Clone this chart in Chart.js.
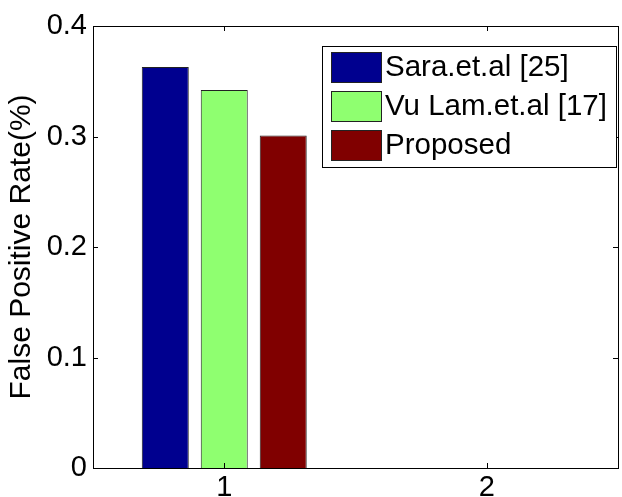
<!DOCTYPE html>
<html>
<head>
<meta charset="utf-8">
<script src="https://cdn.jsdelivr.net/npm/chart.js@4"></script>
<style>
  body { margin: 0; background: #fff; }
  #wrap { width: 622px; height: 497px; }
</style>
</head>
<body>
<div id="wrap"><canvas id="fprChart" width="622" height="497"></canvas></div>
<script>
// data
const categories = ['1', '2'];
const saraValues = [0.363, 0];
const vuLamValues = [0.342, 0];
const proposedValues = [0.301, 0];
const yTicks = [0, 0.1, 0.2, 0.3, 0.4];

const FONT = '"Liberation Sans", Arial, Helvetica, sans-serif';

// MATLAB style box + inward tick marks
const boxAxes = {
    id: 'boxAxes',
    afterDraw(chart) {
        const { ctx, chartArea: a, scales } = chart;
        ctx.save();
        ctx.strokeStyle = '#000';
        ctx.lineWidth = 1;
        ctx.strokeRect(a.left + 0.5, a.top + 0.5, a.right - a.left, a.bottom - a.top);
        ctx.beginPath();
        yTicks.forEach(v => {
            const y = Math.round(scales.y.getPixelForValue(v)) + 0.5;
            ctx.moveTo(a.left, y); ctx.lineTo(a.left + 5, y);
            ctx.moveTo(a.right, y); ctx.lineTo(a.right - 5, y);
        });
        categories.forEach((c, i) => {
            const x = Math.round(scales.x.getPixelForValue(i)) + 0.5;
            ctx.moveTo(x, a.bottom); ctx.lineTo(x, a.bottom - 5);
            ctx.moveTo(x, a.top); ctx.lineTo(x, a.top + 5);
        });
        ctx.stroke();
        ctx.restore();
    }
};

// legend drawn inside the axes, top right, with a border
const boxLegend = {
    id: 'boxLegend',
    afterDraw(chart) {
        const { ctx, chartArea: a } = chart;
        const w = 294, h = 121;
        const x0 = a.right - 2 - w, y0 = a.top + 20;
        ctx.save();
        ctx.fillStyle = '#fff';
        ctx.fillRect(x0, y0, w, h);
        ctx.strokeStyle = '#000';
        ctx.lineWidth = 1;
        ctx.strokeRect(x0 + 0.5, y0 + 0.5, w, h);
        ctx.font = '29.5px ' + FONT;
        ctx.textBaseline = 'middle';
        chart.data.datasets.forEach((ds, i) => {
            const cy = y0 + 21 + i * 39;
            ctx.fillStyle = ds.backgroundColor;
            ctx.fillRect(x0 + 9, cy - 15, 50, 30);
            ctx.strokeStyle = '#222';
            ctx.strokeRect(x0 + 9.5, cy - 14.5, 50, 30);
            ctx.fillStyle = '#000';
            ctx.fillText(ds.label, x0 + 63, cy + 1);
        });
        ctx.restore();
    }
};

const ctxFpr = document.getElementById('fprChart').getContext('2d');
const fprChart = new Chart(ctxFpr, {
    type: 'bar',
    data: {
        labels: categories,
        datasets: [{
            label: 'Sara.et.al [25]',
            data: saraValues,
            backgroundColor: 'rgb(0,0,143)'
        }, {
            label: 'Vu Lam.et.al [17]',
            data: vuLamValues,
            backgroundColor: 'rgb(143,255,112)'
        }, {
            label: 'Proposed',
            data: proposedValues,
            backgroundColor: 'rgb(128,0,0)'
        }]
    },
    options: {
        responsive: false,
        animation: false,
        devicePixelRatio: 1,
        layout: { padding: { top: 26, right: 4, left: 0, bottom: 0 } },
        datasets: {
            bar: {
                borderColor: '#222',
                borderWidth: 1,
                categoryPercentage: 0.674,
                barPercentage: 0.797
            }
        },
        plugins: {
            legend: { display: false },
            tooltip: { enabled: false }
        },
        scales: {
            x: {
                grid: { display: false, drawTicks: false },
                border: { display: false },
                ticks: { color: '#000', font: { family: FONT, size: 29 }, padding: 3 },
                afterFit(scale) { scale.height = 29; }
            },
            y: {
                min: 0,
                max: 0.4,
                grid: { display: false, drawTicks: false },
                border: { display: false },
                afterBuildTicks(scale) { scale.ticks = yTicks.map(v => ({ value: v })); },
                ticks: {
                    color: '#000',
                    font: { family: FONT, size: 29 },
                    padding: 6,
                    callback: v => (v === 0 ? '0' : v.toFixed(1))
                },
                title: {
                    display: true,
                    text: 'False Positive Rate(%)',
                    color: '#000',
                    font: { family: FONT, size: 30 },
                    padding: { top: 4, bottom: 0 }
                },
                afterFit(scale) { scale.width = 93; }
            }
        }
    },
    plugins: [boxAxes, boxLegend]
});
</script>
</body>
</html>
